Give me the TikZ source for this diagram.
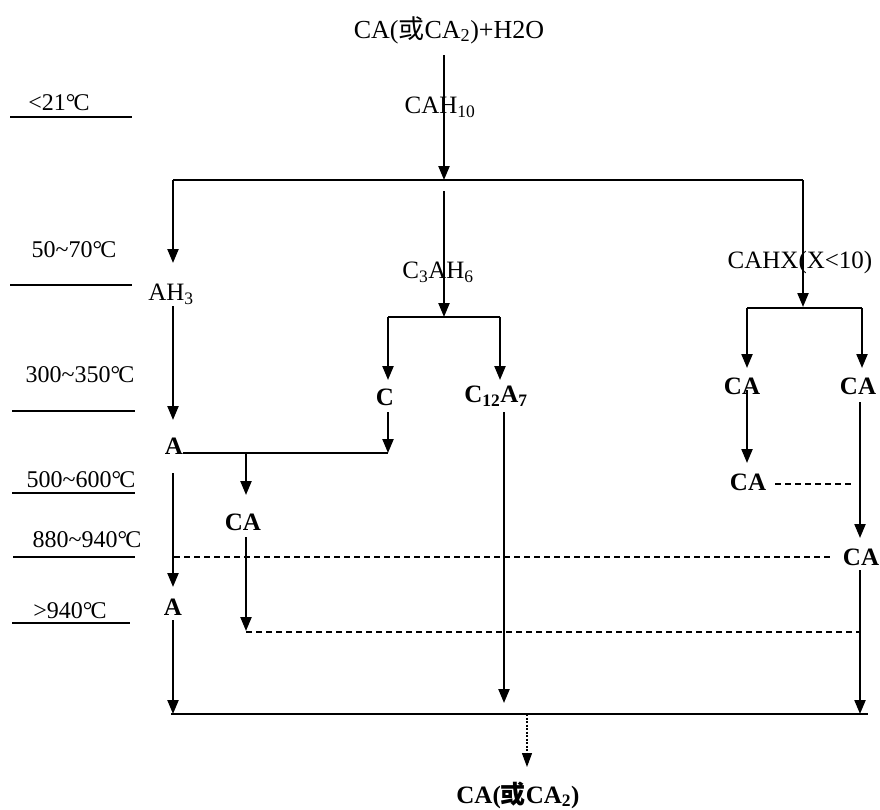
\documentclass[tikz,border=0pt]{standalone}
\usepackage{fontspec}
\setmainfont{Liberation Serif}
\newfontfamily\cjk{Noto Sans CJK SC}
\usetikzlibrary{arrows.meta}
\newcommand{\degC}{°\kern-0.08em C}
\begin{document}
\begin{tikzpicture}[x=1pt,y=-1pt,
  lab/.style={inner sep=0pt,font=\fontsize{25}{28}\selectfont},
  blab/.style={inner sep=0pt,font=\fontsize{25}{28}\selectfont\bfseries},
  tlab/.style={inner sep=0pt,font=\fontsize{24}{28}\selectfont},
  ln/.style={line width=2.2pt},
  arr/.style={line width=2.2pt,-{Triangle[length=14pt,width=11pt]}},
  dsh/.style={line width=2.2pt,dash pattern=on 6pt off 4pt},
  dot/.style={line width=1.2pt,dash pattern=on 2pt off 1.5pt,-{Triangle[length=14pt,width=10pt]}},
  tline/.style={line width=2pt}]
\useasboundingbox (0,0) rectangle (880,809);
% temperature labels
\node[tlab] (t1) at (59,103) {<21\degC};
\node[tlab] (t2) at (74,250) {50\textasciitilde 70\degC};
\node[tlab] (t3) at (80,375) {300\textasciitilde 350\degC};
\node[tlab] (t4) at (81,480) {500\textasciitilde 600\degC};
\node[tlab] (t5) at (87,540) {880\textasciitilde 940\degC};
\node[tlab] (t6) at (70,611) {>940\degC};
\coordinate (l1a) at (10,117); \coordinate (l1b) at (132,117);
\coordinate (l2a) at (10,285); \coordinate (l2b) at (132,285);
\coordinate (l3a) at (12,411); \coordinate (l3b) at (135,411);
\coordinate (l4a) at (12,493); \coordinate (l4b) at (135,493);
\coordinate (l5a) at (13,557); \coordinate (l5b) at (135,557);
\coordinate (l6a) at (12,623); \coordinate (l6b) at (130,623);
\foreach \i in {1,...,6} \draw[tline] (l\i a) -- (l\i b);
% main nodes
\node[lab,font=\fontsize{26}{28}\selectfont] (top) at (449,30) {CA({\cjk 或}CA\textsubscript{2})+H2O};
\node[lab] (cah) at (440,107) {CAH\textsubscript{10}};
\node[lab] (ah3) at (171,294) {AH\textsubscript{3}};
\node[lab] (c3ah6) at (438,272) {C\textsubscript{3}AH\textsubscript{6}};
\node[lab] (cahx) at (800,262) {CAHX(X<10)};
\node[blab] (c) at (385,397) {C};
\node[blab] (c12) at (496,396) {C\textsubscript{12}A\textsubscript{7}};
\node[blab] (a1) at (174,446) {A};
\node[blab] (ca1) at (243,522) {CA};
\node[blab] (a2) at (173,607) {A};
\node[blab] (caL) at (742,386) {CA};
\node[blab] (caR) at (858,386) {CA};
\node[blab] (caL2) at (748,482) {CA};
\node[blab] (caR2) at (861,557) {CA};
\node[blab] (fin) at (518,795) {CA({\cjk 或}CA\textsubscript{2})};
% junction coordinates
\coordinate (s0) at (444,55);
\coordinate (j0) at (444,180);
\coordinate (jl) at (173,180);
\coordinate (jr) at (803,180);
\coordinate (jlt) at (173,263);
\coordinate (jrt) at (803,307);
\coordinate (m0) at (444,191);
\coordinate (m1) at (444,317);
\coordinate (m1l) at (388,317);
\coordinate (m1r) at (500,317);
\coordinate (m1lt) at (388,380);
\coordinate (m1rt) at (500,380);
\coordinate (r1l) at (747,308);
\coordinate (r1r) at (862,308);
\coordinate (r1lt) at (747,368);
\coordinate (r1rt) at (862,368);
\coordinate (b0) at (171,714);
\coordinate (b1) at (868,714);
\coordinate (bm) at (527,714);
\coordinate (ah0) at (173,306);
\coordinate (ah1) at (173,420);
\coordinate (a1r) at (183,453);
\coordinate (cj) at (388,453);
\coordinate (c0) at (388,412);
\coordinate (caj) at (246,453);
\coordinate (cat) at (246,495);
\coordinate (ca0) at (246,537);
\coordinate (ca1t) at (246,631);
\coordinate (d1a) at (246,632);
\coordinate (d1b) at (860,632);
\coordinate (a10) at (173,473);
\coordinate (a1t) at (173,587);
\coordinate (a20) at (173,620);
\coordinate (a2t) at (173,714);
\coordinate (c120) at (504,412);
\coordinate (c12t) at (504,703);
\coordinate (cl0) at (747,390);
\coordinate (clt) at (747,463);
\coordinate (d2a) at (775,484);
\coordinate (d2b) at (854,484);
\coordinate (cr0) at (860,402);
\coordinate (crt) at (860,538);
\coordinate (cr20) at (860,570);
\coordinate (cr2t) at (860,714);
\coordinate (d3a) at (174,557);
\coordinate (d3b) at (831,557);
\coordinate (ft) at (527,767);
% connectors
\draw[arr] (s0) -- (j0);
\draw[ln] (jl) -- (jr);
\draw[arr] (jl) -- (jlt);
\draw[arr] (jr) -- (jrt);
\draw[arr] (m0) -- (m1);
\draw[ln] (m1l) -- (m1r);
\draw[arr] (m1l) -- (m1lt);
\draw[arr] (m1r) -- (m1rt);
\draw[ln] (r1l) -- (r1r);
\draw[arr] (r1l) -- (r1lt);
\draw[arr] (r1r) -- (r1rt);
\draw[arr] (ah0) -- (ah1);
\draw[ln] (a1r) -- (cj);
\draw[arr] (c0) -- (cj);
\draw[arr] (caj) -- (cat);
\draw[arr] (ca0) -- (ca1t);
\draw[dsh] (d1a) -- (d1b);
\draw[arr] (a10) -- (a1t);
\draw[arr] (a20) -- (a2t);
\draw[arr] (c120) -- (c12t);
\draw[arr] (cl0) -- (clt);
\draw[dsh] (d2a) -- (d2b);
\draw[arr] (cr0) -- (crt);
\draw[arr] (cr20) -- (cr2t);
\draw[dsh] (d3a) -- (d3b);
\draw[ln] (b0) -- (b1);
\draw[dot] (bm) -- (ft);
\end{tikzpicture}
\end{document}
